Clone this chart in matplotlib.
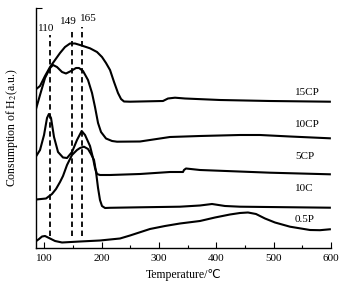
import matplotlib
matplotlib.use("Agg")
import matplotlib.pyplot as plt
from matplotlib.ticker import MultipleLocator

plt.rcParams["font.family"] = ["Liberation Serif", "DejaVu Sans", "Noto Sans CJK SC"]
plt.rcParams["mathtext.fontset"] = "stix"

# H2-TPR profiles (temperature in C, signal in a.u. with offsets)
t_15cp = [86, 92.5, 101.2, 110, 118.7, 127.4, 136.1, 144.8, 153.5, 162.3, 179.7, 191.9,
          200.6, 207.6, 214.6, 221.6, 228.5, 233.8, 239, 249.5, 307, 315.7, 327.9, 345.4,
          406.4, 493.6, 598]
y_15cp = [159, 162, 172, 181, 188, 195, 201, 204.5, 204.5, 203, 199.7, 196,
          191, 185, 178, 166, 155, 149, 146.5, 146.3, 147, 149.5, 150.3, 149.5,
          148, 147, 146.3]

t_10cp = [86, 92.5, 101.2, 110, 115.2, 122.1, 130.9, 137.8, 146.6, 155.3, 160.5, 167.5,
          176.2, 183.2, 188.4, 193.7, 198.9, 207.6, 218.1, 226.8, 266.9, 319.2, 371.5,
          441.3, 476.2, 528.5, 598]
y_10cp = [140, 153, 170, 180, 183, 181, 176, 174.5, 177, 180, 180, 177,
          168, 155, 141, 125, 116, 109.5, 107, 106.3, 106.5, 111, 112,
          113, 113, 111.5, 109.7]

t_5cp = [86, 92.5, 99.5, 104.7, 108, 111.7, 116.9, 123.9, 132.6, 139.6, 148.3, 157,
         165.2, 171, 179.7, 184.9, 188.4, 191.9, 197.1, 214.6, 266.9, 319.2, 341.9,
         343.6, 347.1, 371.5, 493.6, 598]
y_5cp = [92, 98, 113, 130, 134, 130, 111, 96, 90.5, 90, 96, 108,
         117, 113, 102, 90, 80, 74, 73, 73, 74, 76, 76,
         78, 79.5, 78, 75.3, 73.7]

t_10c = [86, 103, 113.4, 120.4, 127.4, 132.6, 139.6, 148.3, 157, 162.3, 169.2, 176.2,
         181.4, 186.7, 190.2, 193.7, 197.1, 200.6, 205.9, 214.6, 266.9, 336.6, 371.5,
         392.5, 415.1, 441.3, 598]
y_10c = [48.5, 49.5, 54, 59, 66, 72, 83, 93, 98, 100, 101.3, 99,
         94, 88, 76, 60, 48, 42, 40, 40.2, 40.7, 41.3, 42.5,
         44, 42, 41.3, 40.3]

t_05p = [86, 90.8, 96, 101.2, 108.2, 118.7, 130.9, 162.3, 197.1, 232, 249.5, 284.3,
         310.5, 336.6, 371.5, 397.7, 423.8, 441.3, 455.2, 469.2, 484.9, 502.3, 528.5,
         563.4, 580.8, 598]
y_05p = [7, 9, 11.5, 12, 10, 7, 5.5, 6.5, 7.5, 9.5, 12.5, 19,
         22, 24.5, 27, 30.5, 33.5, 35, 35.5, 34, 29.5, 25.5, 21.3,
         18, 17.8, 18.7]

curve_names = ["15CP", "10CP", "5CP", "10C", "0.5P"]
label_y = [155, 123, 91, 59, 28]

peak_temps = [110, 149, 165]
peak_tops = [213, 217, 221]
peak_text_pos = [(102.6, 219.7), (141.3, 226.3), (176.2, 229.7)]

fig = plt.figure(figsize=(3.54, 2.92), dpi=100)
ax = fig.add_axes([0.1017, 0.1507, 0.8333, 0.8219])

for t, y in [(t_15cp, y_15cp), (t_10cp, y_10cp), (t_5cp, y_5cp), (t_10c, y_10c), (t_05p, y_05p)]:
    ax.plot(t, y, color="black", lw=1.5, solid_joinstyle="round")

for name, ly in zip(curve_names, label_y):
    ax.text(537, ly, name, fontsize=8, ha="left", va="center")

for tp, top, (tx, ty) in zip(peak_temps, peak_tops, peak_text_pos):
    ax.plot([tp, tp], [11.5, top], color="black", lw=1.3, linestyle=(0, (3, 2)))
    ax.text(tx, ty, str(tp), fontsize=8, ha="center", va="center")

ax.set_xlim(85.5, 600)
ax.set_ylim(0, 240)
ax.xaxis.set_major_locator(MultipleLocator(100))
ax.xaxis.set_minor_locator(MultipleLocator(50))
ax.set_yticks([240])
ax.set_yticklabels([])
ax.tick_params(axis="x", which="major", direction="in", length=4, width=0.8, labelsize=8, pad=4)
ax.tick_params(axis="x", which="minor", direction="in", length=2, width=0.8)
ax.tick_params(axis="y", direction="in", length=4, width=0.8)
for side in ["top", "right"]:
    ax.spines[side].set_visible(False)
for side in ["left", "bottom"]:
    ax.spines[side].set_linewidth(1.0)

ax.set_xlabel("Temperature/\u2103", fontsize=8.5, labelpad=5)
ax.set_ylabel("Consumption of H$_2$(a.u.)", fontsize=8.5, labelpad=8)

fig.savefig("out.png", dpi=100)
